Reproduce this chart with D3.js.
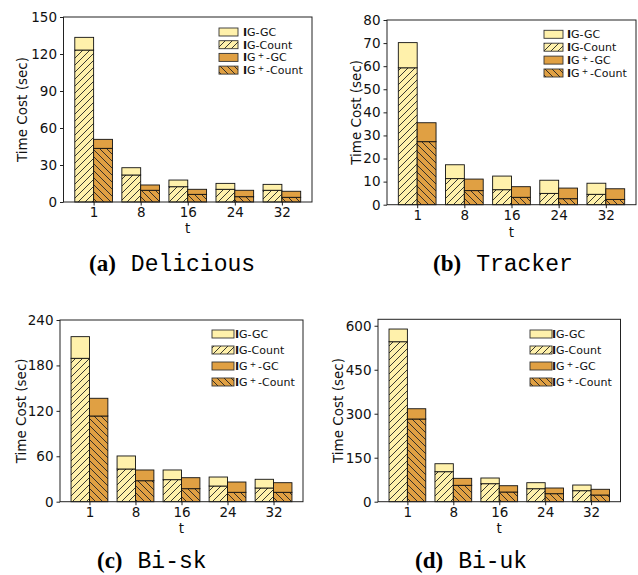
<!DOCTYPE html>
<html><head><meta charset="utf-8">
<script src="https://cdn.jsdelivr.net/npm/d3@7"></script>
<style>body{margin:0;background:#fff}svg{display:block}</style>
</head><body>
<svg id="chart" width="638" height="575"></svg>
<script>
const tLabels = ["1", "8", "16", "24", "32"];
const seriesNames = ["IG-GC", "IG-Count", "IG+-GC", "IG+-Count"];

// Delicious
const deliciousIGTotal = [133.5, 27.8, 17.8, 15.1, 14.3];
const deliciousIGCount = [123.2, 21.9, 12.4, 10.3, 9.5];
const deliciousIGPTotal = [50.8, 13.8, 10.3, 9.5, 8.7];
const deliciousIGPCount = [43.5, 9.5, 6.2, 4.3, 3.8];
const deliciousTicks = [0, 30, 60, 90, 120, 150];

// Tracker
const trackerIGTotal = [70.2, 17.3, 12.4, 10.6, 9.3];
const trackerIGCount = [59.3, 11.3, 6.5, 4.9, 4.5];
const trackerIGPTotal = [35.5, 11.1, 7.8, 7.2, 6.9];
const trackerIGPCount = [27.3, 6.1, 3.2, 2.6, 2.3];
const trackerTicks = [0, 10, 20, 30, 40, 50, 60, 70, 80];

// Bi-sk
const biskIGTotal = [218, 60.4, 41.9, 32.6, 29.6];
const biskIGCount = [189.4, 43.2, 29.1, 20.7, 18.1];
const biskIGPTotal = [136.6, 41.9, 31.7, 26.0, 25.1];
const biskIGPCount = [113.2, 27.7, 17.2, 12.4, 12.4];
const biskTicks = [0, 60, 120, 180, 240];

// Bi-uk
const biukIGTotal = [588.8, 129.5, 80.8, 64.8, 56.9];
const biukIGCount = [545.5, 102.3, 61.4, 44.3, 37.5];
const biukIGPTotal = [317, 79.7, 54.5, 46.7, 42.3];
const biukIGPCount = [282, 55.9, 33.0, 27.3, 22.8];
const biukTicks = [0, 150, 300, 450, 600];

const LIGHT = "#fff1ab", ORANGE = "#e0a043";

const svg = d3.select("#chart");
const defs = svg.append("defs");
function hatch(id, fill, dir) {
  const s = 7;
  const p = defs.append("pattern").attr("id", id).attr("patternUnits", "userSpaceOnUse")
    .attr("width", s).attr("height", s);
  p.append("rect").attr("width", s).attr("height", s).attr("fill", fill);
  const path = dir > 0
    ? `M0,${s} L${s},0 M${-s/2},${s/2} L${s/2},${-s/2} M${s/2},${s*1.5} L${s*1.5},${s/2}`
    : `M0,0 L${s},${s} M${-s/2},${s/2} L${s/2},${s*1.5} M${s/2},${-s/2} L${s*1.5},${s/2}`;
  p.append("path").attr("d", path).attr("stroke", "#222").attr("stroke-width", 0.9);
}
hatch("hatchFwd", LIGHT, 1);
hatch("hatchBack", ORANGE, -1);

const panels = [
  {box: [63.5, 312, 17, 202], ymax: 150, ticks: deliciousTicks, igT: deliciousIGTotal, igC: deliciousIGCount, igpT: deliciousIGPTotal, igpC: deliciousIGPCount,
   ylabX: 22, tY: 233, leg: [219, 32, 12.7, 19, 243], cap: [89, 271, "(a)", "Delicious"]},
  {box: [387, 636, 20, 204.7], ymax: 80, ticks: trackerTicks, igT: trackerIGTotal, igC: trackerIGCount, igpT: trackerIGPTotal, igpC: trackerIGPCount,
   ylabX: 356, tY: 237, leg: [544, 34.3, 12.9, 19, 567], cap: [433, 271, "(b)", "Tracker"]},
  {box: [60, 303, 320, 501.7], ymax: 240, ticks: biskTicks, igT: biskIGTotal, igC: biskIGCount, igpT: biskIGPTotal, igpC: biskIGPCount,
   ylabX: 21, tY: 533, leg: [212, 334, 16, 22, 235], cap: [97, 568, "(c)", "Bi-sk"]},
  {box: [378, 620.5, 319.3, 501.7], ymax: 622, ticks: biukTicks, igT: biukIGTotal, igC: biukIGCount, igpT: biukIGPTotal, igpC: biukIGPCount,
   ylabX: 338, tY: 533, leg: [530, 334, 16, 22, 552], cap: [415, 568, "(d)", "Bi-uk"]}
];

const FONT = "DejaVu Sans, sans-serif";

function labelText(sel, name, size) {
  sel.attr("font-family", FONT).attr("font-size", size).attr("fill", "#111");
  sel.append("tspan").attr("font-weight", "bold").text("I");
  if (name.startsWith("IG+")) {
    sel.append("tspan").text("G");
    sel.append("tspan").attr("dx", 2).attr("dy", -3).attr("font-size", size * 0.7).text("+");
    sel.append("tspan").attr("dx", 2).attr("dy", 3).text(name.slice(3));
  } else {
    sel.append("tspan").text(name.slice(1));
  }
}

panels.forEach(P => {
  const [L, R, T, B] = P.box;
  const g = svg.append("g");
  const x = d3.scaleLinear().domain([-0.64, 4.64]).range([L, R]);
  const y = d3.scaleLinear().domain([0, P.ymax]).range([B, T]);
  const w = x(0.4) - x(0);

  tLabels.forEach((lab, i) => {
    const rows = [
      {x0: x(i - 0.4), lo: 0, hi: P.igC[i], fill: "url(#hatchFwd)"},
      {x0: x(i - 0.4), lo: P.igC[i], hi: P.igT[i], fill: LIGHT},
      {x0: x(i), lo: 0, hi: P.igpC[i], fill: "url(#hatchBack)"},
      {x0: x(i), lo: P.igpC[i], hi: P.igpT[i], fill: ORANGE}
    ];
    rows.forEach(r => {
      g.append("rect").attr("x", r.x0).attr("width", w)
        .attr("y", y(r.hi)).attr("height", y(r.lo) - y(r.hi))
        .attr("fill", r.fill).attr("stroke", "#111").attr("stroke-width", 0.9);
    });
  });

  g.append("rect").attr("x", L).attr("y", T).attr("width", R - L).attr("height", B - T)
    .attr("fill", "none").attr("stroke", "#222").attr("stroke-width", 1);

  const yAxis = d3.axisLeft(y).tickValues(P.ticks).tickSize(3.5).tickPadding(3);
  const ya = g.append("g").attr("transform", `translate(${L},0)`).call(yAxis);
  ya.select(".domain").remove();
  ya.selectAll("text").attr("font-family", FONT).attr("font-size", 13.5).attr("fill", "#111");
  ya.selectAll("line").attr("stroke", "#222");

  const xAxis = d3.axisBottom(x).tickValues([0, 1, 2, 3, 4]).tickFormat(i => tLabels[i]).tickSize(3.5).tickPadding(2);
  const xa = g.append("g").attr("transform", `translate(0,${B})`).call(xAxis);
  xa.select(".domain").remove();
  xa.selectAll("text").attr("font-family", FONT).attr("font-size", 13.5).attr("fill", "#111");
  xa.selectAll("line").attr("stroke", "#222");

  g.append("text").attr("transform", `translate(${P.ylabX},${(T + B) / 2}) rotate(-90)`)
    .attr("text-anchor", "middle").attr("dominant-baseline", "central")
    .attr("font-family", FONT).attr("font-size", 13.5).attr("fill", "#111").text("Time Cost (sec)");
  g.append("text").attr("x", x(2)).attr("y", P.tY).attr("text-anchor", "middle")
    .attr("font-family", FONT).attr("font-size", 13.5).attr("fill", "#111").text("t");

  const [lx, ly, ld, lw, tx] = P.leg;
  const fills = [LIGHT, "url(#hatchFwd)", ORANGE, "url(#hatchBack)"];
  seriesNames.forEach((nm, k) => {
    const cy = ly + k * ld;
    g.append("rect").attr("x", lx).attr("y", cy - 4).attr("width", lw).attr("height", 8)
      .attr("fill", fills[k]).attr("stroke", "#333").attr("stroke-width", 0.9);
    const t = g.append("text").attr("x", tx).attr("y", cy + 4);
    labelText(t, nm, 11);
  });

  const [cx, cyy, pre, name] = P.cap;
  const c = svg.append("text").attr("x", cx).attr("y", cyy);
  c.append("tspan").attr("font-family", "Liberation Serif, serif").attr("font-weight", "bold").attr("font-size", 23).text(pre);
  c.append("tspan").attr("font-family", "Liberation Mono, monospace").attr("font-size", 23).attr("dx", 15).text(name);
});
</script>
</body></html>
